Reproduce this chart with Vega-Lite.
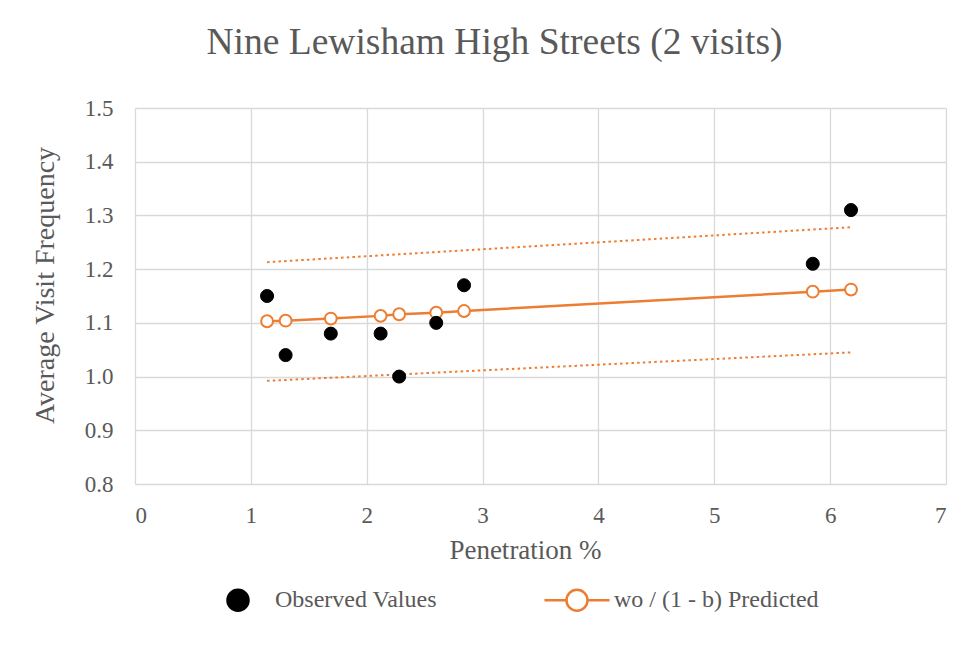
{
  "$schema": "https://vega.github.io/schema/vega-lite/v6.json",
  "width": 811,
  "height": 376,
  "autosize": "none",
  "padding": {"left": 135, "top": 108, "right": 25, "bottom": 161},
  "background": "white",
  "config": {
    "font": "'Liberation Serif', 'Times New Roman', serif",
    "view": {"stroke": null},
    "axis": {
      "grid": true, "gridColor": "#d9d9d9", "gridWidth": 1.3,
      "domain": false, "ticks": false,
      "labelFont": "'Liberation Serif', 'Times New Roman', serif", "labelFontSize": 23, "labelColor": "#595959",
      "titleFont": "'Liberation Serif', 'Times New Roman', serif", "titleFontSize": 27, "titleColor": "#595959", "titleFontWeight": "normal"
    },
    "legend": {
      "labelFont": "'Liberation Serif', 'Times New Roman', serif", "labelFontSize": 24, "labelColor": "#595959", "labelLimit": 500,
      "symbolSize": 441, "symbolStrokeWidth": 2.5, "symbolOpacity": 1
    }
  },
  "title": {
    "text": "Nine Lewisham High Streets (2 visits)",
    "font": "'Liberation Serif', 'Times New Roman', serif", "fontSize": 37.5, "fontWeight": "normal", "color": "#595959",
    "anchor": "middle", "dx": -46, "offset": 36
  },
  "datasets": {
    "points": [
      {"x": 1.14, "observed": 1.15, "predicted": 1.103},
      {"x": 1.30, "observed": 1.04, "predicted": 1.104},
      {"x": 1.69, "observed": 1.08, "predicted": 1.108},
      {"x": 2.12, "observed": 1.08, "predicted": 1.113},
      {"x": 2.28, "observed": 1.00, "predicted": 1.116},
      {"x": 2.60, "observed": 1.10, "predicted": 1.119},
      {"x": 2.84, "observed": 1.17, "predicted": 1.122},
      {"x": 5.85, "observed": 1.21, "predicted": 1.158},
      {"x": 6.18, "observed": 1.31, "predicted": 1.162}
    ],
    "bounds": [
      {"x": 1.14, "upper": 1.213, "lower": 0.992},
      {"x": 6.18, "upper": 1.278, "lower": 1.045}
    ]
  },
  "layer": [
    {
      "data": {"name": "bounds"},
      "mark": {"type": "line", "color": "#ED7D31", "strokeWidth": 2, "strokeDash": [2.5, 3.2]},
      "encoding": {
        "x": {"field": "x", "type": "quantitative", "scale": {"domain": [0, 7]},
              "axis": {"title": "Penetration %", "tickCount": 7, "labelPadding": 20, "titleX": 390, "titleY": 74, "titleBaseline": "alphabetic"}},
        "y": {"field": "upper", "type": "quantitative", "scale": {"domain": [0.8, 1.5], "zero": false},
              "axis": {"title": "Average Visit Frequency", "titleFontSize": 28, "format": ".1f", "tickCount": 7, "labelPadding": 22, "titleX": -82, "titleY": 177, "titleBaseline": "alphabetic", "titleAngle": -90, "titleAlign": "center"}}
      }
    },
    {
      "data": {"name": "bounds"},
      "mark": {"type": "line", "color": "#ED7D31", "strokeWidth": 2, "strokeDash": [2.5, 3.2]},
      "encoding": {
        "x": {"field": "x", "type": "quantitative"},
        "y": {"field": "lower", "type": "quantitative"}
      }
    },
    {
      "data": {"name": "points"},
      "mark": {"type": "line", "color": "#ED7D31", "strokeWidth": 2.5},
      "encoding": {
        "x": {"field": "x", "type": "quantitative"},
        "y": {"field": "predicted", "type": "quantitative"}
      }
    },
    {
      "data": {"name": "points"},
      "mark": {"type": "point", "shape": "circle", "filled": true, "strokeWidth": 2, "size": 140, "opacity": 1},
      "encoding": {
        "x": {"field": "x", "type": "quantitative"},
        "y": {"field": "predicted", "type": "quantitative"},
        "fill": {"datum": "wo / (1 - b) Predicted", "type": "nominal"},
        "stroke": {"datum": "wo / (1 - b) Predicted", "type": "nominal"}
      }
    },
    {
      "data": {"name": "points"},
      "mark": {"type": "point", "shape": "circle", "filled": true, "strokeWidth": 1, "size": 170, "opacity": 1},
      "encoding": {
        "x": {"field": "x", "type": "quantitative"},
        "y": {"field": "observed", "type": "quantitative"},
        "fill": {
          "datum": "Observed Values", "type": "nominal",
          "scale": {"domain": ["Observed Values", "wo / (1 - b) Predicted"], "range": ["black", "white"]},
          "legend": {"title": null, "orient": "none", "legendX": 91, "legendY": 480, "direction": "horizontal", "labelOffset": 25, "columnPadding": 102}
        },
        "stroke": {
          "datum": "Observed Values", "type": "nominal",
          "scale": {"domain": ["Observed Values", "wo / (1 - b) Predicted"], "range": ["black", "#ED7D31"]},
          "legend": {"title": null, "orient": "none", "legendX": 91, "legendY": 480, "direction": "horizontal", "labelOffset": 25, "columnPadding": 102}
        },
        "shape": {
          "datum": "Observed Values", "type": "nominal",
          "scale": {"domain": ["Observed Values", "wo / (1 - b) Predicted"], "range": ["circle", "M-3.1,0L-1,0M1,0L3.1,0M-1,0A1,1 0 1,0 1,0A1,1 0 1,0 -1,0"]},
          "legend": {"title": null, "orient": "none", "legendX": 91, "legendY": 480, "direction": "horizontal", "labelOffset": 25, "columnPadding": 102}
        }
      }
    }
  ]
}
